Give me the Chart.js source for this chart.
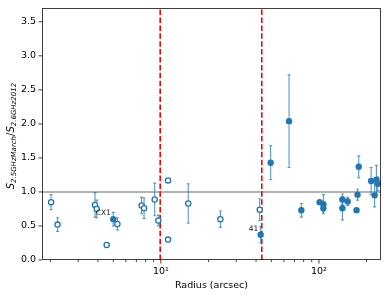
<!DOCTYPE html>
<html><head><meta charset="utf-8">
<script src="https://cdn.jsdelivr.net/npm/chart.js@4/dist/chart.umd.min.js"></script>
<style>html,body{margin:0;padding:0;background:#fff}#wrap{width:389px;height:298px}</style>
</head><body><div id="wrap"><canvas id="c" width="389" height="298"></canvas></div>
<script>
// ---- data ----
const openRadius = [2.02, 2.22, 3.83, 3.93, 4.54, 5.31, 7.55, 7.83, 9.14, 9.64, 11.1, 11.1, 14.9, 23.8, 42.2];
const openRatio  = [0.85, 0.52, 0.81, 0.75, 0.22, 0.53, 0.80, 0.76, 0.89, 0.58, 1.17, 0.30, 0.83, 0.60, 0.74];
const openErr    = [0.11, 0.10, 0.18, 0.13, 0.00, 0.09, 0.12, 0.15, 0.24, 0.08, 0.00, 0.03, 0.29, 0.12, 0.16];

const filledRadius = [5.0, 42.8, 49.5, 64.7, 77.4, 101, 106.7, 106.7, 140.8, 140.8, 152, 178.6, 175.5, 173, 213.9, 225, 231, 235.6];
const filledRatio  = [0.60, 0.37, 1.43, 2.04, 0.73, 0.85, 0.82, 0.76, 0.89, 0.76, 0.86, 1.37, 0.96, 0.73, 1.16, 0.95, 1.18, 1.12];
const filledErr    = [0.10, 0.12, 0.25, 0.68, 0.10, 0.02, 0.14, 0.05, 0.08, 0.17, 0.06, 0.16, 0.08, 0.02, 0.20, 0.17, 0.21, 0.10];

const xTickValues = [2,3,4,5,6,7,8,9,10,20,30,40,50,60,70,80,90,100,200];
const xTickLabels = {10:'10\u00b9', 100:'10\u00b2'};
const yTickValues = [0,0.5,1,1.5,2,2.5,3,3.5];

const refLineRatio = [1];
const boundaryRadius = [9.9, 43.5];

const annotLabels = ['CX1', '41'];
const annotRadius = [5.0, 42.8];
const annotRatio  = [0.60, 0.37];

const xRange = [1.77, 247];
const yRange = [0, 3.7];

// ---- drawing ----
const FONT = 'DejaVu Sans';
const BLUE = '#1f77b4';

function pts(xs, ys){ return xs.map((v,i)=>({x:v, y:ys[i]})); }

const decor = {
  id: 'decor',
  beforeDatasetsDraw(chart){
    const {ctx, chartArea:a, scales:{x, y}} = chart;
    ctx.save();
    ctx.beginPath(); ctx.rect(a.left, a.top, a.right-a.left, a.bottom-a.top); ctx.clip();
    refLineRatio.forEach(v=>{
      const py = y.getPixelForValue(v);
      ctx.strokeStyle = 'rgba(128,128,128,0.8)'; ctx.lineWidth = 1.6; ctx.setLineDash([]);
      ctx.beginPath(); ctx.moveTo(a.left, py); ctx.lineTo(a.right, py); ctx.stroke();
    });
    boundaryRadius.forEach(v=>{
      const px = x.getPixelForValue(v);
      ctx.strokeStyle = '#ff0000'; ctx.lineWidth = 1.6; ctx.setLineDash([5.5, 2.4]);
      ctx.beginPath(); ctx.moveTo(px, a.bottom); ctx.lineTo(px, a.top); ctx.stroke();
    });
    ctx.setLineDash([]);
    const drawErr = (xs, ys, es) => {
      ctx.strokeStyle = 'rgba(31,119,180,0.75)'; ctx.lineWidth = 1.1;
      xs.forEach((xv,i)=>{
        if (!es[i]) return;
        const px = x.getPixelForValue(xv);
        const p1 = y.getPixelForValue(ys[i]-es[i]);
        const p2 = y.getPixelForValue(ys[i]+es[i]);
        ctx.beginPath();
        ctx.moveTo(px, p1); ctx.lineTo(px, p2);
        ctx.moveTo(px-1.5, p1); ctx.lineTo(px+1.5, p1);
        ctx.moveTo(px-1.5, p2); ctx.lineTo(px+1.5, p2);
        ctx.stroke();
      });
    };
    drawErr(openRadius, openRatio, openErr);
    drawErr(filledRadius, filledRatio, filledErr);
    ctx.restore();
  },
  afterDraw(chart){
    const {ctx, chartArea:a, scales:{x, y}} = chart;
    ctx.save();
    // spines
    ctx.strokeStyle = 'rgba(0,0,0,0.75)'; ctx.lineWidth = 1;
    ctx.strokeRect(Math.round(a.left)+0.5, Math.round(a.top)+0.5, Math.round(a.right-a.left)-1, Math.round(a.bottom-a.top)-1);
    // tick marks
    ctx.beginPath();
    x.ticks.forEach(t=>{
      const px = x.getPixelForValue(t.value);
      const len = xTickLabels[t.value] ? 3.5 : 2;
      ctx.moveTo(px, a.bottom); ctx.lineTo(px, a.bottom+len);
    });
    y.ticks.forEach(t=>{
      const py = y.getPixelForValue(t.value);
      ctx.moveTo(a.left, py); ctx.lineTo(a.left-3.5, py);
    });
    ctx.stroke();
    // annotations
    ctx.fillStyle = '#222'; ctx.font = '7.5px "'+FONT+'"';
    ctx.textAlign = 'right'; ctx.textBaseline = 'middle';
    annotLabels.forEach((s,i)=>{
      ctx.fillText(s, x.getPixelForValue(annotRadius[i])-2.5, y.getPixelForValue(annotRatio[i])-6);
    });
    // y-axis title with subscripts
    const parts = [
      {t:'S', s:10, d:0, it:true},
      {t:'2.5GHzMarch', s:7, d:2.2, it:true},
      {t:'/', s:10, d:0, it:false},
      {t:'S', s:10, d:0, it:true},
      {t:'2.6GHz2012', s:7, d:2.2, it:true}
    ];
    const fnt = p => (p.it?'italic ':'') + p.s + 'px "'+FONT+'"';
    let w = 0;
    parts.forEach(p=>{ ctx.font = fnt(p); p.w = ctx.measureText(p.t).width; w += p.w; });
    ctx.translate(11, (a.top+a.bottom)/2 + 2);
    ctx.rotate(-Math.PI/2);
    ctx.textAlign = 'left'; ctx.textBaseline = 'alphabetic'; ctx.fillStyle = '#000';
    let u = -w/2;
    parts.forEach(p=>{ ctx.font = fnt(p); ctx.fillText(p.t, u, 3 + p.d); u += p.w; });
    ctx.restore();
  }
};

new Chart(document.getElementById('c'), {
  type: 'scatter',
  data: {
    datasets: [
      {
        label: 'open', data: pts(openRadius, openRatio),
        pointRadius: 2.6, pointBackgroundColor: '#ffffff', pointBorderColor: BLUE, pointBorderWidth: 1.3,
        showLine: false
      },
      {
        label: 'filled', data: pts(filledRadius, filledRatio),
        pointRadius: 3.2, pointBackgroundColor: BLUE, pointBorderColor: BLUE, pointBorderWidth: 0,
        showLine: false
      }
    ]
  },
  options: {
    responsive: false, animation: false, devicePixelRatio: 1,
    layout: {padding: {top: 7, right: 8, left: 0, bottom: 0}},
    plugins: {legend: {display: false}, tooltip: {enabled: false}},
    scales: {
      x: {
        type: 'logarithmic', min: xRange[0], max: xRange[1],
        afterBuildTicks: s => { s.ticks = xTickValues.map(v => ({value: v, major: !!xTickLabels[v]})); },
        afterFit: s => { s.height = 38; },
        ticks: {
          callback: v => xTickLabels[v] || '', autoSkip: false, maxRotation: 0, minRotation: 0,
          padding: 2, color: '#000', font: {family: FONT, size: 9.5}
        },
        grid: {display: true, drawOnChartArea: false, color: 'rgba(0,0,0,0)', tickLength: 3.5},
        border: {display: false},
        title: {display: true, text: 'Radius (arcsec)', color: '#000', font: {family: FONT, size: 9.5}, padding: {top: 0, bottom: 7}}
      },
      y: {
        type: 'linear', min: yRange[0], max: yRange[1],
        afterBuildTicks: s => { s.ticks = yTickValues.map(v => ({value: v})); },
        afterFit: s => { s.width = 42; },
        ticks: {callback: v => Number(v).toFixed(1), padding: 2.5, color: '#000', font: {family: FONT, size: 9.5}},
        grid: {display: true, drawOnChartArea: false, color: 'rgba(0,0,0,0)', tickLength: 3.5},
        border: {display: false}
      }
    }
  },
  plugins: [decor]
});
</script>
</body></html>
